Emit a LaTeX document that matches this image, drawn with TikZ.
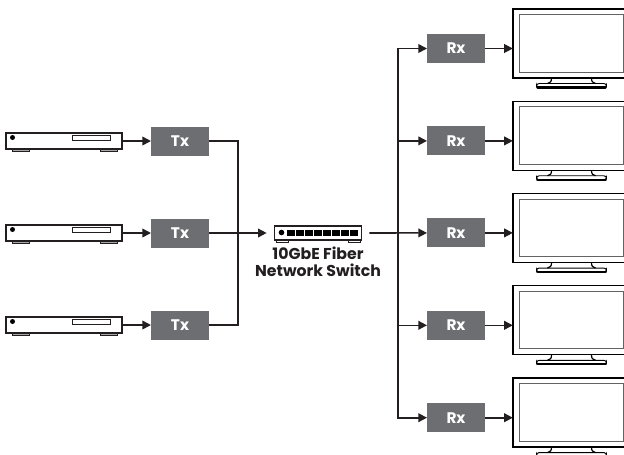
\documentclass[tikz,border=0pt]{standalone}
\usepackage{fontspec}
\setmainfont{Poppins}
\usepackage{tikz}
\usetikzlibrary{arrows.meta}
\definecolor{boxgray}{HTML}{6D6E71}
\definecolor{ink}{HTML}{231F20}
\tikzstyle{every node}=[font=\bfseries\fontsize{11.5}{12}\selectfont, inner sep=0pt, outer sep=0pt]
\tikzstyle{codec} = [rectangle, minimum width=43.5pt, minimum height=21.75pt, text=white, fill=boxgray]
\tikzstyle{player} = [rectangle, minimum width=87pt, minimum height=12pt, draw=ink, line width=0.9pt, fill=white]
\tikzstyle{monitor} = [rectangle, minimum width=88pt, minimum height=51.75pt, draw=black, line width=1pt, fill=white]
\tikzstyle{switchbox} = [rectangle, minimum width=65pt, minimum height=10.5pt, draw=ink, line width=0.8pt, fill=white]
\tikzstyle{swtext} = [font=\bfseries\fontsize{11.8}{12.75}\selectfont, text=ink, align=center]
\tikzstyle{arrow} = [ink, line width=1.2pt, -{Triangle[length=6.5pt, width=6.5pt]}]
\tikzstyle{wire} = [ink, line width=1.2pt]
\tikzstyle{thin part} = [ink, line width=0.5pt]
\newcommand{\playerparts}[1]{
  \draw [thin part, fill=boxgray!60, shift={(#1.center)}] (-52,8) rectangle (-35,10.5);
  \draw [thin part, fill=boxgray!60, shift={(#1.center)}] (36,8) rectangle (53,10.5);
  \draw [thin part, line width=0.7pt, shift={(#1.center)}] (8,-5.5) rectangle (46,-0.5);
  \fill [black, shift={(#1.center)}] (-51.5,-3.5) circle (2.5);
}
\newcommand{\monitorparts}[1]{
  \draw [ink!70, line width=0.7pt, shift={(#1.center)}] (-52.5,-29) rectangle (51.5,28.5);
  \draw [black, line width=0.9pt, shift={(#1.center)}] (-20,34.5) .. controls (-20,38) and (-21,39.5) .. (-24,40);
  \draw [black, line width=0.9pt, shift={(#1.center)}] (20,34.5) .. controls (20,38) and (21,39.5) .. (24,40);
  \draw [black, line width=0.7pt, rounded corners=2, shift={(#1.center)}] (-35,40) rectangle (35,44);
  \draw [black, line width=1.6pt, line cap=round, shift={(#1.center)}] (-34,44) -- (34,44);
}
\begin{document}
\begin{tikzpicture}[x=0.75pt, y=-0.75pt]
  \clip (0,0) rectangle (624,454);
  % sources
  \node (pl1) [player] at (64,141) {};
  \node (pl2) [player, below of=pl1, node distance=69pt] {};
  \node (pl3) [player, below of=pl2, node distance=69pt] {};
  \playerparts{pl1}
  \playerparts{pl2}
  \playerparts{pl3}
  \node (tx1) [codec, right of=pl1, node distance=87pt] {Tx};
  \node (tx2) [codec, right of=pl2, node distance=87pt] {Tx};
  \node (tx3) [codec, right of=pl3, node distance=87pt] {Tx};
  % switch
  \node (sw) [switchbox, right of=tx2, node distance=103.5pt] {};
  \draw [thin part, shift={(sw.center)}] (-42,7) -- (-42,9.5) -- (-30,9.5) -- (-30,7);
  \draw [thin part, shift={(sw.center)}] (30,7) -- (30,9.5) -- (42,9.5) -- (42,7);
  \fill [black, shift={(sw.center)}] (-36.5,-0.5) circle (2.8);
  \draw [black, line width=4.2pt, dash pattern=on 5.7pt off 1.1pt, shift={(sw.center)}] (-31,0) -- (41,0);
  \node (swlabel) [swtext, below of=sw, node distance=21.5pt] {10GbE Fiber\\Network Switch};
  % receivers
  \node (rx1) [codec] at (456,48.5) {Rx};
  \node (rx2) [codec, below of=rx1, node distance=69.3pt] {Rx};
  \node (rx3) [codec, below of=rx2, node distance=69pt] {Rx};
  \node (rx4) [codec, below of=rx3, node distance=69.3pt] {Rx};
  \node (rx5) [codec, below of=rx4, node distance=69.3pt] {Rx};
  \node (mon1) [monitor] at (571.5,43.5) {};
  \node (mon2) [monitor, below of=mon1, node distance=69.2pt] {};
  \node (mon3) [monitor, below of=mon2, node distance=69.2pt] {};
  \node (mon4) [monitor, below of=mon3, node distance=69.2pt] {};
  \node (mon5) [monitor, below of=mon4, node distance=69.2pt] {};
  \monitorparts{mon1}
  \monitorparts{mon2}
  \monitorparts{mon3}
  \monitorparts{mon4}
  \monitorparts{mon5}
  % connectors
  \coordinate (leftbus) at (238,233);
  \coordinate (rightbus) at (398,233);
  \draw [arrow] (pl1) -- (tx1);
  \draw [arrow] (pl2) -- (tx2);
  \draw [arrow] (pl3) -- (tx3);
  \draw [wire] (tx1) -| (leftbus);
  \draw [wire] (tx3) -| (leftbus);
  \draw [arrow, shorten >=6pt] (tx2) -- (sw);
  \draw [arrow, shorten <=6pt] (sw) -- (rx3);
  \draw [arrow] (rightbus) |- (rx1);
  \draw [arrow] (rightbus) |- (rx2);
  \draw [arrow] (rightbus) |- (rx4);
  \draw [arrow] (rightbus) |- (rx5);
  \draw [arrow] (rx1) -- (rx1 -| mon1.west);
  \draw [arrow] (rx2) -- (rx2 -| mon2.west);
  \draw [arrow] (rx3) -- (rx3 -| mon3.west);
  \draw [arrow] (rx4) -- (rx4 -| mon4.west);
  \draw [arrow] (rx5) -- (rx5 -| mon5.west);
\end{tikzpicture}
\end{document}
